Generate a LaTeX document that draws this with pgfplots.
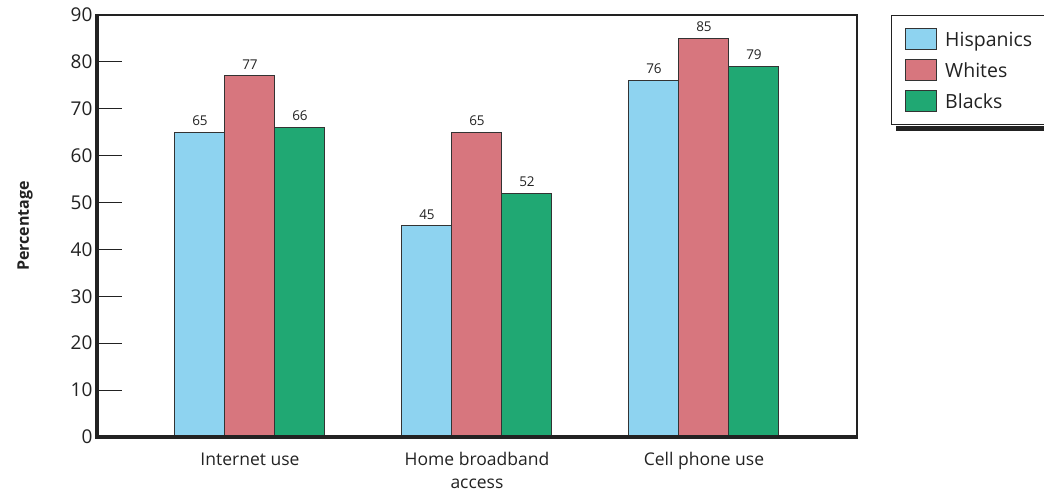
\documentclass[border=0pt]{standalone}
\usepackage{pgfplots}
\pgfplotsset{compat=1.18}
\usepackage{fontspec}
\setmainfont{Open Sans}

\definecolor{hisp}{HTML}{8ED3F0}
\definecolor{whit}{HTML}{D7767E}
\definecolor{blk}{HTML}{20A873}
\definecolor{edge}{HTML}{333333}
\definecolor{ink}{HTML}{222222}

\begin{document}
\begin{tikzpicture}
\begin{axis}[
  scale only axis,
  width=760pt, height=422pt,
  xmin=-0.674, xmax=2.674,
  ymin=0, ymax=90,
  ybar=0pt,
  bar width=50pt,
  xtick={0,1,2},
  xticklabels={Internet use, Home broadband\\access, Cell phone use},
  xticklabel style={align=center, font=\fontsize{17.5}{23}\selectfont, text=ink, yshift=-12pt},
  x tick style={draw=none},
  ytick={0,10,...,90},
  ytick pos=left,
  yticklabel style={font=\fontsize{19}{20}\selectfont, text=ink, xshift=-1pt},
  /pgf/number format/assume math mode=true,
  tick align=inside,
  major tick length=25pt,
  y tick style={line width=1pt, color=ink},
  axis line style={line width=1.2pt, color=ink},
  clip=false,
  nodes near coords,
  every node near coord/.append style={font=\fontsize{13.5}{14}\selectfont, text=ink, yshift=3pt},
  legend style={
    name=leg,
    at={(axis description cs:1.0447,1)}, anchor=north west,
    draw=ink, line width=1pt, fill=white,
    font=\fontsize{19.5}{21}\selectfont, text=ink,
    row sep=9pt, column sep=6pt, inner xsep=14pt, inner ysep=13pt,
    legend cell align=left,
  },
  legend image code/.code={
    \draw[#1, line width=0.8pt] (-14pt,-10pt) rectangle (17pt,11pt);
  },
]
\addplot[fill=hisp, draw=edge, line width=1pt] coordinates {(0,65) (1,45) (2,76)};
\addplot[fill=whit, draw=edge, line width=1pt] coordinates {(0,77) (1,65) (2,85)};
\addplot[fill=blk, draw=edge, line width=1pt] coordinates {(0,66) (1,52) (2,79)};
\legend{Hispanics\hspace*{12pt}, Whites, Blacks}
% heavy left and bottom axis lines
\draw[ink, line width=4pt] (axis description cs:0,1.002) -- (axis description cs:0,0) -- (axis description cs:1.002,0);
\node[rotate=90, font=\bfseries\fontsize{16}{17}\selectfont, text=ink]
  at (axis description cs:-0.0947,0.5) {Percentage};
\coordinate (bl) at (axis description cs:-0.1276,-0.1327);
\coordinate (tr) at (axis description cs:1.2461,1.0355);
\end{axis}
% offset shadow below and right of the legend box
\fill[ink] ([xshift=5pt,yshift=-0.5pt]leg.south west) rectangle ([xshift=5pt,yshift=-5.5pt]leg.south east);
\fill[ink] ([xshift=0.5pt,yshift=-5pt]leg.north east) rectangle ([xshift=5.5pt,yshift=-5.5pt]leg.south east);
\pgfresetboundingbox
\path[use as bounding box] (bl) rectangle (tr);
\end{tikzpicture}
\end{document}
